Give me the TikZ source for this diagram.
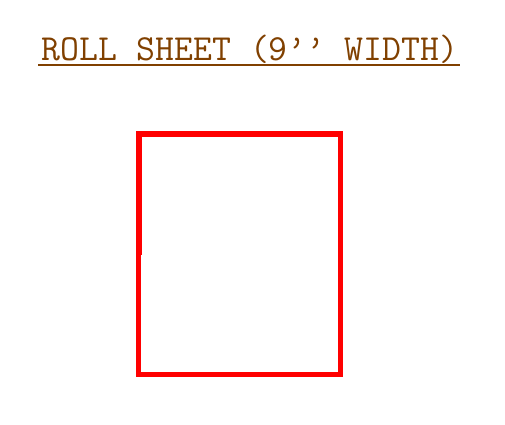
\documentclass[tikz,border=0pt]{standalone}
\usepackage{fontspec}
\definecolor{titlebrown}{RGB}{128,64,0}
\begin{document}
\begin{tikzpicture}[x=1pt,y=-1pt,
  titletext/.style={text=titlebrown, inner sep=0pt, anchor=base},
  sheetline/.style={draw=red, line width=5.5pt, line join=miter}]
\useasboundingbox (0,0) rectangle (505,424);
\node[titletext] (title) at (250,60) {\scalebox{1.02}[1.02]{\ttfamily\addfontfeature{FakeBold=4}\fontsize{36}{38}\selectfont ROLL SHEET (9\textquoteright\textquoteright{} WIDTH)}};
\draw[titlebrown, line width=2pt] (38,64.5) coordinate (ul1) -- (460,64.5) coordinate (ul2);
\coordinate (tl) at (139,134);
\coordinate (tr) at (340.5,134);
\coordinate (br) at (340.5,374.5);
\coordinate (bl) at (138.5,374.5);
\coordinate (jl) at (138.5,255);
\coordinate (ju) at (139,255);
\draw[sheetline] (ju) -- (tl) -- (tr) -- (br) -- (bl) -- (jl);
\end{tikzpicture}
\end{document}
